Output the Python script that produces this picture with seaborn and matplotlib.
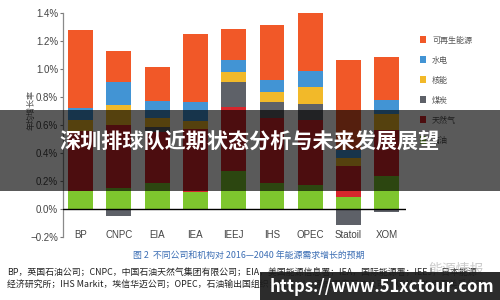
import matplotlib
matplotlib.use("Agg")
import matplotlib.pyplot as plt
from matplotlib.patches import Rectangle, Patch
import numpy as np
import seaborn as sns

# ---------------- data (annual growth, %) ----------------
companies = ["BP", "CNPC", "EIA", "IEA", "IEEJ", "IHS", "OPEC", "Statoil", "XOM"]
oil     = [0.13, 0.155, 0.19, 0.125, 0.27, 0.19, 0.17, 0.09, 0.24]
gas     = [0.43, 0.445, 0.364, 0.446, 0.456, 0.46, 0.468, 0.219, 0.326]
coal    = [0.0, -0.045, 0.032, 0.0, 0.179, 0.112, 0.114, -0.112, -0.022]
nuclear = [0.075, 0.145, 0.064, 0.059, 0.071, 0.078, 0.119, 0.055, 0.115]
hydro   = [0.085, 0.162, 0.119, 0.132, 0.09, 0.084, 0.112, 0.06, 0.095]
renew   = [0.56, 0.219, 0.245, 0.49, 0.222, 0.388, 0.417, 0.642, 0.307]
series_names = ["石油", "天然气", "煤炭", "核能", "水电", "可再生能源"]
ytick_vals = [-0.2, 0.0, 0.2, 0.4, 0.6, 0.8, 1.0, 1.2, 1.4]
ytick_labels = ["\u22120.2%", "0.0%", "0.2%", "0.4%", "0.6%", "0.8%", "1.0%", "1.2%", "1.4%"]
ylabel_text = "年均增长率"
overlay_title = "深圳排球队近期状态分析与未来发展展望"
caption_title = "图 2  不同公司和机构对 2016—2040 年能源需求增长的预期"
caption_line1 = "BP，英国石油公司；CNPC，中国石油天然气集团有限公司；EIA，美国能源信息署；IEA，国际能源署；IEEJ，日本能源"
caption_line2 = "经济研究所；IHS Markit，埃信华迈公司；OPEC，石油输出国组织；Statoil，挪威国家石油公司；XOM，埃克森美孚公司。"
url_text = "https://www.51xctour.com"
watermark_text = "能源情报"

colors = ["#7EC62E", "#D7262D", "#5E6168", "#F2B929", "#4294D4", "#F15828"]

sns.set_style("white")
plt.rcParams["font.family"] = ["Noto Sans CJK SC", "DejaVu Sans"]
plt.rcParams["axes.unicode_minus"] = True

W, H = 500, 300
fig = plt.figure(figsize=(5, 3), dpi=100)
fig.patch.set_facecolor("white")
ax = fig.add_axes([62.7 / W, 1 - 237.3 / H, (406 - 62.7) / W, (237.3 - 13) / H])

coal_pos = np.clip(np.array(coal), 0, None)
coal_neg = np.clip(np.array(coal), None, 0)
layers = [np.array(oil), np.array(gas), coal_pos, np.array(nuclear), np.array(hydro), np.array(renew)]
cum = np.cumsum(np.vstack(layers), axis=0)

for i in range(len(layers) - 1, -1, -1):
    sns.barplot(x=companies, y=cum[i], color=colors[i], saturation=1, width=0.65,
                errorbar=None, linewidth=0, ax=ax)
sns.barplot(x=companies, y=coal_neg, color=colors[2], saturation=1, width=0.65,
            errorbar=None, linewidth=0, ax=ax)

ax.axhline(0, color="black", lw=1.0, zorder=5)
ax.set_xlim(-0.465, 8.5)
ax.set_ylim(-0.2, 1.4)
ax.set_xlabel("")
ax.set_ylabel("")
for s in ["top", "right", "bottom"]:
    ax.spines[s].set_visible(False)
ax.spines["left"].set_color("#8a8a8a")
ax.spines["left"].set_linewidth(0.9)

tick_font = ["Liberation Sans Narrow", "Liberation Sans", "DejaVu Sans"]
ax.set_yticks(ytick_vals)
ax.set_yticklabels(ytick_labels, family=tick_font, fontsize=7, color="#444444")
ax.tick_params(axis="y", direction="out", length=2.5, width=0.8, color="#777777", pad=0.8, left=True)
ax.set_xticks(range(len(companies)))
ax.set_xticklabels(companies, family=tick_font, fontsize=7, color="#444444")
ax.tick_params(axis="x", length=0, pad=-5)

fig.text(31 / W, 1 - 110 / H, ylabel_text, rotation=90, ha="center", va="center",
         fontsize=5.8, color="#555555")

# legend
handles = [Patch(facecolor=colors[i], edgecolor="none") for i in range(5, -1, -1)]
labels = [series_names[i] for i in range(5, -1, -1)]
leg = ax.legend(handles, labels, loc="upper left", bbox_to_anchor=(420 / W, 1 - 35.5 / H),
                bbox_transform=fig.transFigure, frameon=False, borderpad=0, borderaxespad=0,
                handlelength=0.75, handleheight=1.0, handletextpad=0.75, labelspacing=1.37,
                prop={"family": ["Noto Sans CJK SC", "DejaVu Sans"], "size": 5.8})
for t in leg.get_texts():
    t.set_color("#555555")

# captions
fig.text(249 / W, 1 - 255 / H, caption_title, ha="center", va="center", fontsize=6.4, color="#3C6EB4")
fig.text(7 / W, 1 - 273 / H, caption_line1, ha="left", va="center", fontsize=6.4, color="#222222")
fig.text(7 / W, 1 - 285 / H, caption_line2, ha="left", va="center", fontsize=6.4, color="#222222")
fig.text(428 / W, 1 - 270 / H, watermark_text, ha="left", va="center", fontsize=10,
         color="#999999", alpha=0.5, zorder=8)

# overlay band with title
fig.patches.append(Rectangle((0, 1 - 190.7 / H), 1, 80.7 / H, transform=fig.transFigure,
                             facecolor="black", alpha=0.647, edgecolor="none", zorder=10))
fig.text(250 / W, 1 - 141 / H, overlay_title, ha="center", va="center", fontsize=15.2,
         fontweight="bold", color="white", zorder=11)

# url banner
fig.patches.append(Rectangle((260 / W, 0), 240 / W, 28 / H, transform=fig.transFigure,
                             facecolor="#1c1c1c", alpha=0.93, edgecolor="none", zorder=10))
fig.text(382 / W, 1 - 287.5 / H, url_text, ha="center", va="center", fontsize=12,
         fontweight="bold", color="white", zorder=11)

fig.savefig("out.png", dpi=100)
